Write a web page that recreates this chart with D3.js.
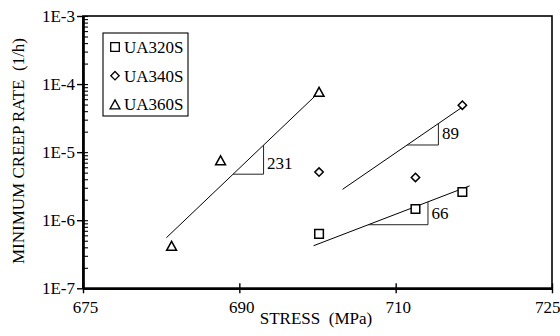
<!DOCTYPE html>
<html><head><meta charset="utf-8">
<script src="https://cdn.jsdelivr.net/npm/d3@7/dist/d3.min.js"></script>
<style>
body{margin:0;background:#fff}
</style></head><body>
<svg id="chart" width="560" height="336" font-family="Liberation Serif, Times New Roman, DejaVu Serif, serif"></svg>
<script>
// Stress axis ticks (equally spaced on the page) and creep-rate decades
const stressTicks = [675, 690, 710, 725];
const rateTicks = [1e-7, 1e-6, 1e-5, 1e-4, 1e-3];
const rateTickLabels = ["1E-7", "1E-6", "1E-5", "1E-4", "1E-3"];
const seriesNames = ["UA320S", "UA340S", "UA360S"];

// Measured minimum creep rates
const ua320Stress = [700.2, 711.9, 716.4];
const ua320Rate = [6.3e-7, 1.46e-6, 2.6e-6];
const ua340Stress = [700.2, 711.9, 716.4];
const ua340Rate = [5.1e-6, 4.25e-6, 4.9e-5];
const ua360Stress = [683.5, 688.2, 700.2];
const ua360Rate = [4.2e-7, 7.6e-6, 7.7e-5];

// Power-law fit lines, given by their end points [stress, rate]
const fit320 = [[699.5, 4.22e-7], [717.1, 3.2e-6]];
const fit340 = [[703.2, 2.84e-6], [716.75, 5.0e-5]];
const fit360 = [[683.0, 5.53e-7], [699.8, 6.86e-5]];

// Stress exponent markers: stress span along each fit line and the exponent
const slopeSpans = [[689.4, 693.1], [711.1, 714.1], [706.5, 713.1]];
const slopeValues = [231, 89, 66];

const FONT = "'Liberation Serif', 'Times New Roman', 'DejaVu Serif', serif";
const svg = d3.select("#chart");
const L = 83, R = 552, T = 16, B = 288.3;

const x = d3.scaleLinear()
  .domain(stressTicks)
  .range(stressTicks.map((d, i) => L + (R - L) * i / (stressTicks.length - 1)));
const y = d3.scaleLog().domain([1e-7, 1e-3]).range([B, T]);

// minor ticks 2..9 of each decade
const minorTicks = [];
for (let e = -7; e < -3; e++) for (let k = 2; k <= 9; k++) minorTicks.push(k * Math.pow(10, e));

// frame
svg.append("rect").attr("x", L).attr("y", T).attr("width", R - L).attr("height", B - T)
  .attr("fill", "none").attr("stroke", "#000").attr("stroke-width", 1.6);

// y axis: labelled major ticks outside, all ticks inside
const yOut = svg.append("g").attr("transform", `translate(${L},0)`)
  .call(d3.axisLeft(y).tickValues(rateTicks).tickSize(6).tickSizeOuter(0).tickPadding(2)
    .tickFormat((d, i) => rateTickLabels[i]));
const yIn = svg.append("g").attr("transform", `translate(${L},0)`)
  .call(d3.axisRight(y).tickValues(rateTicks.concat(minorTicks)).tickSize(5).tickSizeOuter(0).tickFormat(""));

// x axis: ticks crossing the axis line
const xOut = svg.append("g").attr("transform", `translate(0,${B})`)
  .call(d3.axisBottom(x).tickValues(stressTicks).tickSize(5).tickSizeOuter(0).tickFormat(d3.format("d")));
const xIn = svg.append("g").attr("transform", `translate(0,${B})`)
  .call(d3.axisTop(x).tickValues(stressTicks).tickSize(5).tickSizeOuter(0).tickFormat(""));

[yOut, yIn, xOut, xIn].forEach(g => {
  g.attr("font-family", FONT).attr("font-size", 17);
  g.select(".domain").attr("stroke", "#000").attr("stroke-width", 2.2);
  g.selectAll(".tick line").attr("stroke", "#000").attr("stroke-width", 1.4);
  g.selectAll(".tick text").attr("fill", "#000");
});
yIn.selectAll(".tick line").attr("stroke-width", 1.1);
xOut.selectAll(".tick text").attr("y", 12.4).attr("dy", "0.71em").attr("dx", 2);
// the last stress label ends at the right edge of the page
xOut.selectAll(".tick text").filter(d => d === stressTicks[stressTicks.length - 1])
  .attr("text-anchor", "end").attr("dx", 8);
yOut.selectAll(".tick text").attr("dy", "0.33em");

// axis titles
svg.append("text").attr("x", 316).attr("y", 323.5).attr("text-anchor", "middle")
  .attr("font-size", 17).style("white-space", "pre").text("STRESS  (MPa)");
svg.append("text").attr("transform", "translate(24,151) rotate(-90)").attr("text-anchor", "middle")
  .attr("font-size", 17).style("white-space", "pre").text("MINIMUM CREEP RATE  (1/h)");

// fit lines
const line = d3.line().x(d => x(d[0])).y(d => y(d[1]));
const fits = [fit360, fit340, fit320];
svg.append("g").selectAll("path").data(fits).join("path")
  .attr("d", line).attr("fill", "none").attr("stroke", "#000").attr("stroke-width", 1);

// slope triangles, with corners on the fit lines
function yOnFit(f, s) {
  const x0 = x(f[0][0]), y0 = y(f[0][1]), x1 = x(f[1][0]), y1 = y(f[1][1]);
  return y0 + (y1 - y0) * (x(s) - x0) / (x1 - x0);
}
const slopeG = svg.append("g");
slopeSpans.forEach((span, i) => {
  const f = fits[i];
  const xa = x(span[0]), xb = x(span[1]);
  const ya = yOnFit(f, span[0]), yb = yOnFit(f, span[1]);
  slopeG.append("path").attr("d", `M${xa},${ya}L${xb},${ya}L${xb},${yb}`)
    .attr("fill", "none").attr("stroke", "#222").attr("stroke-width", 1);
  slopeG.append("text").attr("x", xb + 3.5).attr("y", ya - 5.5).attr("font-size", 17)
    .text(slopeValues[i]);
});

// marker shapes
const shapes = {
  square: s => `M${-s},${-s}H${s}V${s}H${-s}Z`,
  diamond: s => `M0,${-s}L${s},0L0,${s}L${-s},0Z`,
  triangle: s => `M0,${-s}L${s * 1.1},${s}L${-s * 1.1},${s}Z`
};
const series = [
  {name: seriesNames[0], shape: "square", size: 4.3, stress: ua320Stress, rate: ua320Rate},
  {name: seriesNames[1], shape: "diamond", size: 4.2, stress: ua340Stress, rate: ua340Rate},
  {name: seriesNames[2], shape: "triangle", size: 4.5, stress: ua360Stress, rate: ua360Rate}
];
series.forEach(s => {
  svg.append("g").selectAll("path").data(s.stress.map((v, i) => [v, s.rate[i]])).join("path")
    .attr("transform", d => `translate(${x(d[0])},${y(d[1])})`)
    .attr("d", shapes[s.shape](s.size))
    .attr("fill", "#fff").attr("stroke", "#000").attr("stroke-width", 1.5);
});

// legend
const lg = svg.append("g").attr("transform", "translate(103,33)");
lg.append("rect").attr("width", 85).attr("height", 83)
  .attr("fill", "#fff").attr("stroke", "#000").attr("stroke-width", 1.1);
series.forEach((s, i) => {
  const row = lg.append("g").attr("transform", `translate(0,${14 + i * 28.7})`);
  row.append("path").attr("transform", "translate(12,0)").attr("d", shapes[s.shape](s.size))
    .attr("fill", "none").attr("stroke", "#000").attr("stroke-width", 1.3);
  row.append("text").attr("x", 21).attr("y", 5.8).attr("font-size", 17).text(s.name);
});
</script>
</body></html>
